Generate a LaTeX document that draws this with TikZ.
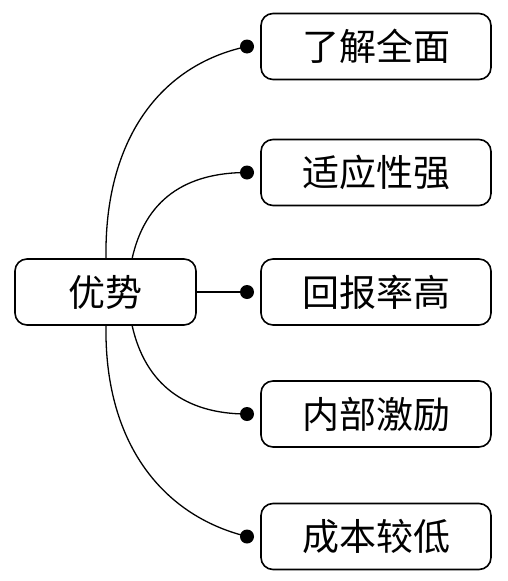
\documentclass[tikz,border=0pt]{standalone}
\usepackage{fontspec}
\setmainfont{Noto Sans CJK SC}
\begin{document}
\begin{tikzpicture}[x=1pt,y=-1pt,
  box/.style={draw, line width=1.6pt, rounded corners=12pt, font=\fontsize{37}{37}\selectfont, inner sep=0pt},
  main/.style={box, minimum width=181pt, minimum height=66pt},
  leaf/.style={box, minimum width=230pt, minimum height=66pt},
  conn/.style={line width=1.3pt},
  dot/.style={circle, fill=black, inner sep=0pt, minimum size=14pt}]
\useasboundingbox (0,0) rectangle (508,581);
\node[main] (m) at (105.5,292) {优势};
\node[leaf] (a) at (376,46.5) {了解全面};
\node[leaf] (b) at (376,172.5) {适应性强};
\node[leaf] (c) at (376,292) {回报率高};
\node[leaf] (d) at (376,414) {内部激励};
\node[leaf] (e) at (376,536.5) {成本较低};
\node[dot] (da) at (247,46.5) {};
\node[dot] (db) at (247,172.5) {};
\node[dot] (dc) at (247,292) {};
\node[dot] (dd) at (247,414) {};
\node[dot] (de) at (247,536.5) {};
\coordinate (m1) at (106,259);
\coordinate (m2) at (132,259);
\coordinate (m4) at (132,325);
\coordinate (m5) at (106,325);
\draw[conn] (m1) .. controls (104,140) and (160,65) .. (da.center);
\draw[conn] (m2) .. controls (145,200) and (185,172.5) .. (db.center);
\draw[conn] (m.east) -- (dc.center);
\draw[conn] (m4) .. controls (145,384) and (185,414) .. (dd.center);
\draw[conn] (m5) .. controls (104,440) and (160,515) .. (de.center);
\end{tikzpicture}
\end{document}
